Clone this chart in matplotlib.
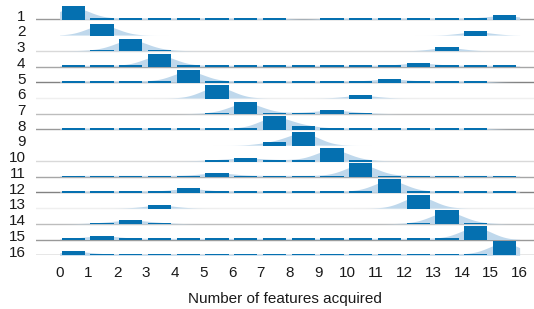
import matplotlib
matplotlib.use('Agg')
import matplotlib.pyplot as plt
import numpy as np

plt.rcParams['font.family'] = ['Liberation Sans', 'DejaVu Sans']

# one row per step (1..16), bars = share of runs by number of features acquired (bins 0..15)
row_labels = [str(i) for i in range(1, 17)]
n_bins = 16

main_bin = list(range(16))
main_height = [0.85, 0.72, 0.78, 0.78, 0.78, 0.81, 0.76, 0.85,
               0.85, 0.81, 0.85, 0.85, 0.85, 0.85, 0.87, 0.89]
second_bin = [15, 14, 13, 12, 11, 10, 9, 8, 7, 6, 5, 4, 3, 2, 1, 0]
second_height = [0.27, 0.235, 0.235, 0.235, 0.21, 0.19, 0.235, 0.235,
                 0.19, 0.19, 0.25, 0.25, 0.21, 0.25, 0.25, 0.27]
small_bins = [
    [1, 2, 3, 4, 5, 6, 7, 9, 10, 11, 12, 13, 14],
    [],
    [1, 3],
    [0, 1, 2, 4, 5, 6, 7, 8, 9, 10, 11, 13, 14, 15],
    [0, 1, 2, 3, 5, 6, 7, 8, 9, 10, 12, 13, 14],
    [],
    [5, 7, 8, 10],
    [0, 1, 2, 3, 4, 5, 6, 9, 10, 11, 12, 13, 14],
    [],
    [5, 7, 8, 10],
    [0, 1, 2, 3, 4, 6, 7, 8, 9, 11, 12, 13, 14, 15],
    [0, 1, 2, 3, 5, 6, 7, 8, 9, 10, 12, 13, 14, 15],
    [],
    [1, 3, 12, 14],
    [0, 2, 3, 4, 5, 6, 7, 8, 9, 10, 11, 12, 13],
    [1, 2, 3, 4, 5, 6, 7, 8, 9, 10, 11, 12, 13, 14],
]
small_height = 0.07

baseline_colors = ['#999999', 'white', '#d9d9d9', '#a6a6a6', '#828282', '#efefef', '#bdbdbd',
                   '#999999', 'white', '#d9d9d9', '#a6a6a6', '#828282', '#efefef', '#bdbdbd',
                   '#999999', '#888888']

blue = '#0570b0'
light_blue = '#bfd8ec'

fig = plt.figure(figsize=(5.34, 3.09), dpi=100)
ax = fig.add_axes([0.0674, 0.1738, 0.9326, 0.8262])

bins = np.arange(n_bins)
xs = np.linspace(0, 16, 800)
sigma = 0.55

for i in range(16):
    base = 15 - i
    vals = np.zeros(n_bins)
    vals[small_bins[i]] = small_height
    vals[main_bin[i]] = main_height[i]
    vals[second_bin[i]] = second_height[i]

    ax.axhline(base, color=baseline_colors[i], lw=1.0, zorder=1)

    # smoothed density from the bar heights
    centers = bins + 0.48
    kde = (vals[:, None] * np.exp(-(xs[None, :] - centers[:, None]) ** 2 / (2 * sigma ** 2))).sum(axis=0)
    kde = kde * 0.85
    ax.fill_between(xs, base, base + kde, color=light_blue, lw=0, zorder=2)

    on = vals > 0
    ax.bar(bins[on] + 0.07, vals[on] + 0.04, width=0.81, bottom=base - 0.04, align='edge',
           color=blue, lw=0, zorder=3)

ax.set_xlim(-0.82, 16.5)
ax.set_ylim(0, 16.23)
ax.set_xticks(range(17))
ax.set_xticklabels([str(v) for v in range(17)], fontsize=11, color='#1a1a1a')
ax.set_yticks([15 - i + 0.27 for i in range(16)])
ax.set_yticklabels(row_labels, fontsize=11, color='#1a1a1a')
ax.tick_params(axis='both', length=0)
ax.tick_params(axis='x', pad=8)
ax.tick_params(axis='y', pad=7.6)
for s in ax.spines.values():
    s.set_visible(False)
ax.set_xlabel('Number of features acquired', fontsize=11, color='#1a1a1a', labelpad=8)

fig.savefig('out.png', dpi=100)
